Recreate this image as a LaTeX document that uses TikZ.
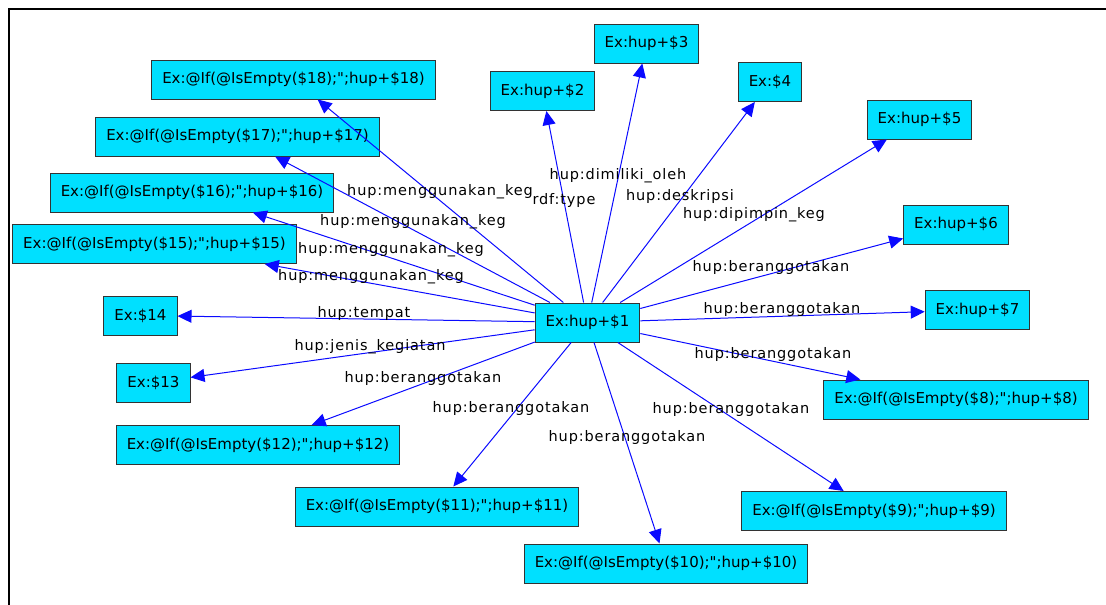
\documentclass[tikz,border=0pt]{standalone}
\usepackage{fontspec}
\setmainfont{DejaVu Sans}
\newfontfamily\resfont[Ligatures=TeXOff]{DejaVu Sans}
\newfontfamily\edgefont[LetterSpace=6]{DejaVu Sans}
\usetikzlibrary{arrows.meta}
\definecolor{nodecyan}{RGB}{0,224,255}
\definecolor{edgeblue}{RGB}{10,10,255}
\begin{document}
\begin{tikzpicture}[x=1pt, y=-1pt,
        res/.style={draw=black!80, line width=1pt, fill=nodecyan, inner xsep=10.5pt, inner ysep=0pt, minimum height=39pt, font=\resfont\fontsize{15}{15}\selectfont},
        lbl/.style={inner sep=0pt, font=\edgefont\fontsize{14.5}{14.5}\selectfont},
        rel/.style={edgeblue, line width=1pt, -{Triangle[length=14pt, width=13pt]}}]
        \useasboundingbox (0, 0) rectangle (1106, 605);
        \draw [line width=2.5pt] (9, 605) -- (9, 9) -- (1106, 9);
        \node [res] (h1) at (587.5, 322.5) {Ex:hup+\$1};
        \node [res] (h2) at (542.5, 91) {Ex:hup+\$2};
        \node [res] (h3) at (646.5, 43.5) {Ex:hup+\$3};
        \node [res] (h4) at (770, 82) {Ex:\$4};
        \node [res] (h5) at (919.5, 119.5) {Ex:hup+\$5};
        \node [res] (h6) at (956, 224.5) {Ex:hup+\$6};
        \node [res] (h7) at (977.5, 310) {Ex:hup+\$7};
        \node [res] (h8) at (956, 399.5) {Ex:@If(@IsEmpty(\$8);";hup+\$8)};
        \node [res] (h9) at (874, 511) {Ex:@If(@IsEmpty(\$9);";hup+\$9)};
        \node [res] (h10) at (666, 563.5) {Ex:@If(@IsEmpty(\$10);";hup+\$10)};
        \node [res] (h11) at (437, 506.5) {Ex:@If(@IsEmpty(\$11);";hup+\$11)};
        \node [res] (h12) at (258, 445) {Ex:@If(@IsEmpty(\$12);";hup+\$12)};
        \node [res] (h13) at (153.5, 382.5) {Ex:\$13};
        \node [res] (h14) at (140.5, 315.5) {Ex:\$14};
        \node [res] (h15) at (154.5, 244) {Ex:@If(@IsEmpty(\$15);";hup+\$15)};
        \node [res] (h16) at (192, 192.5) {Ex:@If(@IsEmpty(\$16);";hup+\$16)};
        \node [res] (h17) at (237.5, 136.5) {Ex:@If(@IsEmpty(\$17);";hup+\$17)};
        \node [res] (h18) at (293.5, 79.5) {Ex:@If(@IsEmpty(\$18);";hup+\$18)};
        \draw [rel] (h1) -- (h2);
        \draw [rel] (h1) -- (h3);
        \draw [rel] (h1) -- (h4);
        \draw [rel] (h1) -- (h5);
        \draw [rel] (h1) -- (h6);
        \draw [rel] (h1) -- (h7);
        \draw [rel] (h1) -- (h8);
        \draw [rel] (h1) -- (h9);
        \draw [rel] (h1) -- (h10);
        \draw [rel] (h1) -- (h11);
        \draw [rel] (h1) -- (h12);
        \draw [rel] (h1) -- (h13);
        \draw [rel] (h1) -- (h14);
        \draw [rel] (h1) -- (h15);
        \draw [rel] (h1) -- (h16);
        \draw [rel] (h1) -- (h17);
        \draw [rel] (h1) -- (h18);
        \node [lbl] (l2) at (564, 200) {rdf:type};
        \node [lbl] (l3) at (618, 176) {hup:dimiliki\_oleh};
        \node [lbl] (l4) at (680, 196) {hup:deskripsi};
        \node [lbl] (l5) at (754, 215) {hup:dipimpin\_keg};
        \node [lbl] (l6) at (771, 267) {hup:beranggotakan};
        \node [lbl] (l7) at (782, 309) {hup:beranggotakan};
        \node [lbl] (l8) at (773, 354) {hup:beranggotakan};
        \node [lbl] (l9) at (731, 409) {hup:beranggotakan};
        \node [lbl] (l10) at (627, 437) {hup:beranggotakan};
        \node [lbl] (l11) at (511, 408) {hup:beranggotakan};
        \node [lbl] (l12) at (423, 378) {hup:beranggotakan};
        \node [lbl] (l13) at (370, 347) {hup:jenis\_kegiatan};
        \node [lbl] (l14) at (364, 313) {hup:tempat};
        \node [lbl] (l15) at (371, 277) {hup:menggunakan\_keg};
        \node [lbl] (l16) at (391, 250) {hup:menggunakan\_keg};
        \node [lbl] (l17) at (413, 222) {hup:menggunakan\_keg};
        \node [lbl] (l18) at (440, 192) {hup:menggunakan\_keg};
    \end{tikzpicture}
\end{document}
